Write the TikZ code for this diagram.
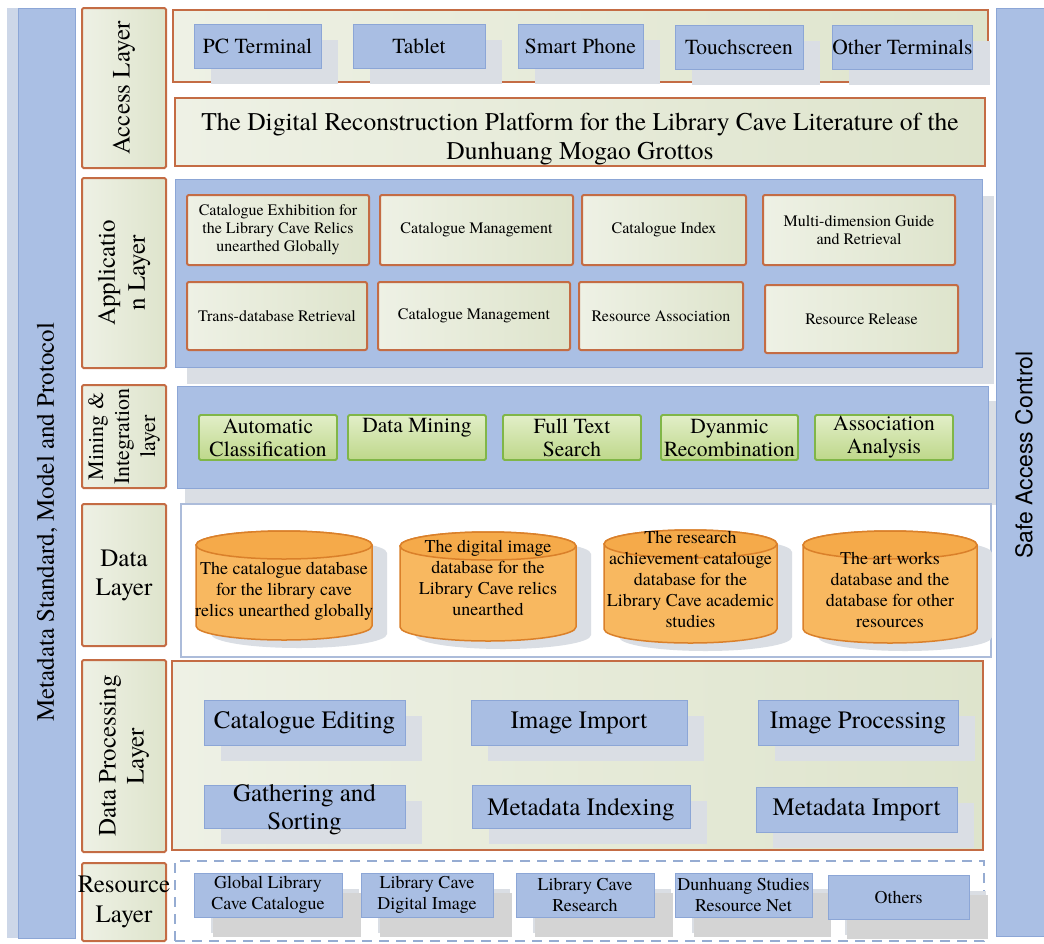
\documentclass[tikz,border=0pt]{standalone}
\usepackage{fontspec}
\setmainfont{TeX Gyre Termes}
\newfontfamily\sidefont{TeX Gyre Heros}
\usetikzlibrary{shadows}

\definecolor{boxblue}{RGB}{169,190,227}
\definecolor{boxblueline}{RGB}{140,166,214}
\definecolor{barblue}{RGB}{170,191,228}
\definecolor{barshade}{RGB}{205,215,232}
\definecolor{beige}{RGB}{222,228,204}
\definecolor{beigelight}{RGB}{238,241,229}
\definecolor{brownline}{RGB}{196,108,68}
\definecolor{minegreen}{RGB}{190,216,138}
\definecolor{minegreenlight}{RGB}{226,238,200}
\definecolor{mineline}{RGB}{128,182,72}
\definecolor{dborange}{RGB}{248,184,96}
\definecolor{dborangetop}{RGB}{245,170,74}
\definecolor{dbline}{RGB}{218,128,42}
\definecolor{shadowgray}{RGB}{218,222,228}
\definecolor{dashblue}{RGB}{150,172,210}
\definecolor{panelline}{RGB}{172,188,218}

% database drum: name, centre x, centre y, half width, half height
\newcommand{\database}[5]{%
  \coordinate (#1) at (#2,#3);
  \begin{scope}[shift={(#1)}]
    \fill[shadowgray] (-#4+15,-#5+22) -- (-#4+15,#5-6) arc[start angle=180, end angle=0, x radius=#4, y radius=14] -- (#4+15,-#5+22) arc[start angle=360, end angle=180, x radius=#4, y radius=14] -- cycle;
    \filldraw[db] (-#4,-#5+14) -- (-#4,#5-14) arc[start angle=180, end angle=0, x radius=#4, y radius=14] -- (#4,-#5+14) arc[start angle=360, end angle=180, x radius=#4, y radius=14] -- cycle;
    \filldraw[db, fill=dborangetop] (0,-#5+14) ellipse[x radius=#4, y radius=14];
  \end{scope}}

\begin{document}
\begin{tikzpicture}[x=1pt,y=-1pt]
\tikzstyle{bar} = [draw=boxblueline, line width=0.8pt, fill=barblue, inner sep=0pt]
\tikzstyle{layer} = [draw=brownline, line width=2pt, left color=beigelight, right color=beige, rounded corners=1.5pt, align=center, inner sep=0pt, font=\fontsize{25}{30}\selectfont]
\tikzstyle{greenpanel} = [draw=brownline, line width=2pt, left color=beigelight, right color=beige, inner sep=0pt]
\tikzstyle{bluepanel} = [draw=boxblueline, line width=1pt, fill=barblue, inner sep=0pt, general shadow={fill=shadowgray, shadow xshift=12pt, shadow yshift=-17pt}]
\tikzstyle{bluebox} = [draw=boxblueline, line width=1pt, fill=boxblue, inner sep=0pt, align=center, general shadow={fill=shadowgray, shadow xshift=17pt, shadow yshift=-16pt}]
\tikzstyle{term} = [bluebox, minimum height=44, font=\fontsize{21.5}{24}\selectfont]
\tikzstyle{appbox} = [draw=brownline, line width=2pt, left color=beigelight, right color=beige, rounded corners=2pt, align=center, inner sep=0pt, font=\fontsize{16}{18}\selectfont]
\tikzstyle{minebox} = [draw=mineline, line width=1.8pt, top color=minegreenlight, bottom color=minegreen, rounded corners=1.5pt, align=center, inner sep=0pt, minimum width=138, minimum height=45, font=\fontsize{21.5}{23}\selectfont]
\tikzstyle{db} = [draw=dbline, line width=1.5pt, fill=dborange]
\tikzstyle{dbtext} = [inner sep=0pt, align=center, font=\fontsize{18}{21}\selectfont]
\tikzstyle{procbox} = [bluebox, font=\fontsize{25}{28}\selectfont]
\tikzstyle{resbox} = [bluebox, general shadow={fill=black!17, shadow xshift=19pt, shadow yshift=-20pt}, minimum height=44, font=\fontsize{18}{21}\selectfont]
\tikzstyle{sidetext} = [inner sep=0pt, rotate=90, font=\fontsize{25}{30}\selectfont]

\useasboundingbox (0,0) rectangle (1044,943);

\node (AccessLayer) [layer, rotate=90, minimum width=160, minimum height=84] at (124,88) {Access Layer};
\node (ApplicationLayer) [layer, rotate=90, minimum width=190, minimum height=84] at (124,273) {Applicatio\\n Layer};
\node (MiningLayer) [layer, rotate=90, minimum width=103, minimum height=84, font=\fontsize{22}{26}\selectfont] at (124,436.5) {Mining \&\\Integration\\layer};
\node (DataLayer) [layer, minimum width=84, minimum height=142, font=\fontsize{25}{29}\selectfont] at (124,575) {Data\\Layer};
\node (ProcessingLayer) [layer, rotate=90, minimum width=192, minimum height=84, font=\fontsize{25}{28}\selectfont] at (124,756) {Data Processing\\Layer};
\node (ResourceLayer) [layer, minimum width=84, minimum height=78] at (124,902) {};
\node (ResourceLayerText) [inner sep=0pt, align=center, font=\fontsize{25}{30}\selectfont] at (ResourceLayer.center) {Resource\\Layer};

\node (TerminalPanel) [greenpanel, minimum width=815, minimum height=72] at (580.5,46) {};
\node (PCTerminal) [term, minimum width=127] at (257.5,46) {PC Terminal};
\node (Tablet) [term, minimum width=132] at (419,46) {Tablet};
\node (SmartPhone) [term, minimum width=125] at (580.5,46) {Smart Phone};
\node (Touchscreen) [term, minimum width=128] at (739,47) {Touchscreen};
\node (OtherTerminals) [term, minimum width=137] at (902.5,47) {Other Terminals};

\node (PlatformTitle) [greenpanel, minimum width=810, minimum height=68] at (580,132) {};
\node (PlatformTitleText) [inner sep=0pt, align=center, font=\fontsize{25.5}{29}\selectfont] at (580,139) {The Digital Reconstruction Platform for the Library Cave Literature of the\\Dunhuang Mogao Grottos};

\node (ApplicationPanel) [bluepanel, minimum width=807, minimum height=188] at (578.5,273) {};
\node (CatalogueExhibition) [appbox, minimum width=182, minimum height=70] at (278,230) {Catalogue Exhibition for\\the Library Cave Relics\\unearthed Globally};
\node (CatalogueManagementA) [appbox, minimum width=193, minimum height=70] at (476.5,230) {Catalogue Management};
\node (CatalogueIndex) [appbox, minimum width=164, minimum height=70] at (664,230) {Catalogue Index};
\node (MultiGuide) [appbox, minimum width=192, minimum height=70] at (859,230) {Multi-dimension Guide\\and Retrieval};
\node (TransRetrieval) [appbox, minimum width=180, minimum height=68] at (277,316) {Trans-database Retrieval};
\node (CatalogueManagementB) [appbox, minimum width=192, minimum height=68] at (474,316) {Catalogue Management};
\node (ResourceAssociation) [appbox, minimum width=164, minimum height=68] at (661,316) {Resource Association};
\node (ResourceRelease) [appbox, minimum width=193, minimum height=68] at (861.5,319) {Resource Release};

\node (MiningPanel) [bluepanel, general shadow={fill=shadowgray, shadow xshift=8pt, shadow yshift=-15pt}, minimum width=811, minimum height=102] at (582.5,437) {};
\node (AutoClassification) [minebox] at (268,437.5) {Automatic\\Classification};
\node (DataMining) [minebox, text height=15pt, text depth=26pt] at (417,437.5) {Data Mining};
\node (FullTextSearch) [minebox] at (572,437.5) {Full Text\\Search};
\node (DynamicRecombination) [minebox, minimum width=137] at (729.5,437.5) {Dyanmic\\Recombination};
\node (AssociationAnalysis) [minebox] at (884,437.5) {Association\\Analysis};

\node (DataPanel) [draw=panelline, line width=2pt, fill=white, inner sep=0pt, minimum width=810, minimum height=153] at (586,580.5) {};
\database{CatalogueDB}{284}{585.5}{88}{54.5}
\node (CatalogueDBText) [dbtext] at (284,591) {The catalogue database\\for the library cave\\relics unearthed globally};
\database{ImageDB}{488}{586.5}{88}{54.5}
\node (ImageDBText) [dbtext] at (488,578) {The digital image\\database for the\\Library Cave relics\\unearthed};
\database{ResearchDB}{690.5}{586.5}{86.5}{56.5}
\node (ResearchDBText) [dbtext] at (690.5,579) {The research\\achievement catalouge\\database for the\\Library Cave academic\\studies};
\database{ArtDB}{890}{587}{87}{56}
\node (ArtDBText) [dbtext] at (890,590) {The art works\\database and the\\database for other\\resources};

\node (ProcessingPanel) [greenpanel, minimum width=811, minimum height=189] at (577.5,755.5) {};
\node (CatalogueEditing) [procbox, minimum width=201, minimum height=45] at (304.5,722.5) {Catalogue Editing};
\node (ImageImport) [procbox, minimum width=216, minimum height=45] at (579,722.5) {Image Import};
\node (ImageProcessing) [procbox, minimum width=200, minimum height=45] at (858,722.5) {Image Processing};
\node (GatheringSorting) [procbox, minimum width=201, minimum height=43] at (304.5,806.5) {};
\node (GatheringSortingText) [inner sep=0pt, align=center, font=\fontsize{25}{28}\selectfont] at (304.5,810) {Gathering and\\Sorting};
\node (MetadataIndexing) [procbox, minimum width=218, minimum height=43, text height=18pt, text depth=0pt] at (581,806.5) {Metadata Indexing};
\node (MetadataImport) [procbox, minimum width=201, minimum height=45] at (856.5,809.5) {Metadata Import};

\node (ResourcePanel) [draw=dashblue, line width=2.5pt, dash pattern=on 10pt off 7pt, inner sep=0pt, minimum width=809, minimum height=80] at (579.5,901) {};
\node (GlobalCatalogue) [resbox, minimum width=148] at (268,895) {Global Library\\Cave Catalogue};
\node (DigitalImage) [resbox, minimum width=132] at (427,895) {Library Cave\\Digital Image};
\node (CaveResearch) [resbox, minimum width=138] at (585,895) {Library Cave\\Research};
\node (DunhuangNet) [resbox, minimum width=137] at (743.5,895) {Dunhuang Studies\\Resource Net};
\node (Others) [resbox, minimum width=141] at (898.5,897) {Others};

\node (MetadataBar) [bar, general shadow={fill=barshade, shadow xshift=-11pt, shadow yshift=0pt}, minimum width=57, minimum height=930] at (46.5,473) {};
\node (MetadataText) [sidetext] at (47,522) {Metadata Standard, Model and Protocol};
\node (SafeBar) [bar, minimum width=48, minimum height=928] at (1020,472) {};
\node (SafeText) [sidetext, font=\sidefont\fontsize{23}{28}\selectfont] at (1024,455) {Safe Access Control};

\end{tikzpicture}
\end{document}
